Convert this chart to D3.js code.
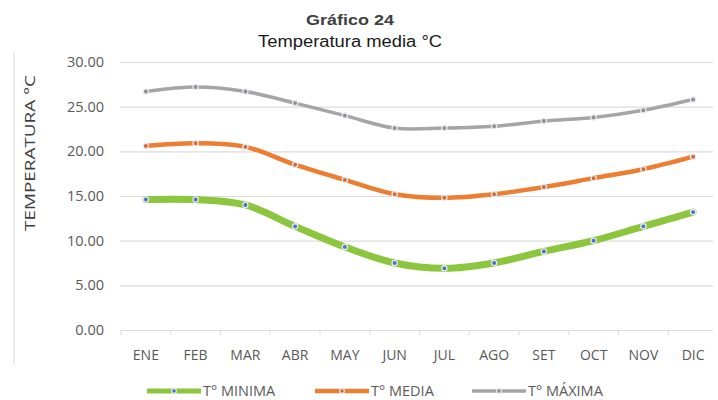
<!DOCTYPE html>
<html>
<head>
<meta charset="utf-8">
<script src="https://cdn.jsdelivr.net/npm/d3@7"></script>
<style>
  body { margin: 0; background: #fff; }
  svg { display: block; }
  .tick text { font-family: "Open Sans", sans-serif; fill: #595959; }
</style>
</head>
<body>
<div id="chart"></div>
<script>
  var months = ["ENE", "FEB", "MAR", "ABR", "MAY", "JUN", "JUL", "AGO", "SET", "OCT", "NOV", "DIC"];
  var tMin = [14.6, 14.6, 14.0, 11.6, 9.3, 7.5, 6.9, 7.5, 8.8, 10.0, 11.6, 13.2];
  var tMed = [20.6, 20.9, 20.5, 18.5, 16.8, 15.2, 14.8, 15.2, 16.0, 17.0, 18.0, 19.4];
  var tMax = [26.7, 27.2, 26.7, 25.4, 24.0, 22.6, 22.6, 22.8, 23.4, 23.8, 24.6, 25.8];
  var yTicks = [0, 5, 10, 15, 20, 25, 30];
  var seriesNames = ["T° MINIMA", "T° MEDIA", "T° MÁXIMA"];

  var W = 718, H = 400;
  var svg = d3.select("#chart").append("svg")
    .attr("width", W)
    .attr("height", H);

  var x = d3.scaleBand().domain(months).range([121, 718]);
  var y = d3.scaleLinear().domain([0, 30]).range([330, 62]);

  // frame line on the left
  svg.append("line")
    .attr("x1", 14).attr("x2", 14)
    .attr("y1", 52).attr("y2", 365)
    .style("stroke", "#d9d9d9");

  // titles
  svg.append("text")
    .attr("x", 350).attr("y", 25)
    .attr("text-anchor", "middle")
    .attr("textLength", 88)
    .attr("lengthAdjust", "spacingAndGlyphs")
    .style("font-family", "Arial, 'Liberation Sans', sans-serif")
    .style("font-weight", "bold")
    .style("font-size", "15.5px")
    .style("fill", "#404040")
    .text("Gráfico 24");

  svg.append("text")
    .attr("x", 350).attr("y", 47)
    .attr("text-anchor", "middle")
    .attr("textLength", 184)
    .attr("lengthAdjust", "spacingAndGlyphs")
    .style("font-family", "Arial, 'Liberation Sans', sans-serif")
    .style("font-size", "16px")
    .style("fill", "#1a1a1a")
    .text("Temperatura media °C");

  // gridlines + y axis
  var yAxis = d3.axisLeft(y)
    .tickValues(yTicks)
    .tickSize(-(718 - 121 - 4))
    .tickPadding(16)
    .tickFormat(d3.format(".2f"));

  var gy = svg.append("g")
    .attr("transform", "translate(120,0)")
    .call(yAxis);
  gy.select(".domain").remove();
  gy.selectAll(".tick line").style("stroke", "#dcdcdc").style("stroke-width", 1.2);
  gy.selectAll(".tick text").style("font-size", "14.5px");

  // x axis
  var xAxis = d3.axisBottom(x).tickSize(0).tickPadding(20);
  var gx = svg.append("g")
    .attr("transform", "translate(0,330)")
    .call(xAxis);
  gx.select(".domain").remove();
  gx.selectAll(".tick text").style("font-size", "14px");

  // small ticks at band edges
  svg.append("g").selectAll("line")
    .data(months)
    .enter().append("line")
    .attr("x1", function(d) { return x(d); })
    .attr("x2", function(d) { return x(d); })
    .attr("y1", 330).attr("y2", 335)
    .style("stroke", "#dcdcdc");

  // y title
  svg.append("text")
    .attr("transform", "translate(35,153) rotate(-90)")
    .attr("text-anchor", "middle")
    .attr("textLength", 156)
    .attr("lengthAdjust", "spacingAndGlyphs")
    .style("font-family", "'Open Sans', sans-serif")
    .style("font-size", "14px")
    .style("fill", "#404040")
    .text("TEMPERATURA °C");

  var series = [
    {name: seriesNames[0], values: tMin, color: "#8cc63f", width: 7, marker: "#4a74b8"},
    {name: seriesNames[1], values: tMed, color: "#ed7d31", width: 4.5, marker: "#d9692a"},
    {name: seriesNames[2], values: tMax, color: "#a5a5a5", width: 3.5, marker: "#8f8f8f"}
  ];

  var line = d3.line()
    .x(function(d, i) { return x(months[i]) + x.bandwidth() / 2; })
    .y(function(d) { return y(d); })
    .curve(d3.curveCatmullRom.alpha(0.5));

  series.forEach(function(s) {
    svg.append("path")
      .datum(s.values)
      .attr("d", line)
      .style("fill", "none")
      .style("stroke", s.color)
      .style("stroke-width", s.width)
      .style("stroke-linecap", "round");

    svg.append("g").selectAll("circle")
      .data(s.values)
      .enter().append("circle")
      .attr("cx", function(d, i) { return x(months[i]) + x.bandwidth() / 2; })
      .attr("cy", function(d) { return y(d); })
      .attr("r", 2.6)
      .style("fill", s.marker)
      .style("stroke", "#e4e8f0")
      .style("stroke-width", 1.3);
  });

  // legend
  var legendX = [147, 315, 472];
  var leg = svg.append("g").selectAll("g")
    .data(series)
    .enter().append("g")
    .attr("transform", function(d, i) { return "translate(" + legendX[i] + ",391)"; });

  leg.append("line")
    .attr("x1", 0).attr("x2", 54)
    .attr("y1", 0).attr("y2", 0)
    .style("stroke", function(d) { return d.color; })
    .style("stroke-width", function(d) { return Math.min(d.width, 5); });

  leg.append("circle")
    .attr("cx", 27).attr("cy", 0).attr("r", 2.4)
    .style("fill", function(d) { return d.marker; })
    .style("stroke", "#e4e8f0")
    .style("stroke-width", 1.2);

  leg.append("text")
    .attr("x", 56).attr("y", 5)
    .style("font-family", "'Open Sans', sans-serif")
    .style("font-size", "14.5px")
    .style("fill", "#595959")
    .text(function(d) { return d.name; });
</script>
</body>
</html>
